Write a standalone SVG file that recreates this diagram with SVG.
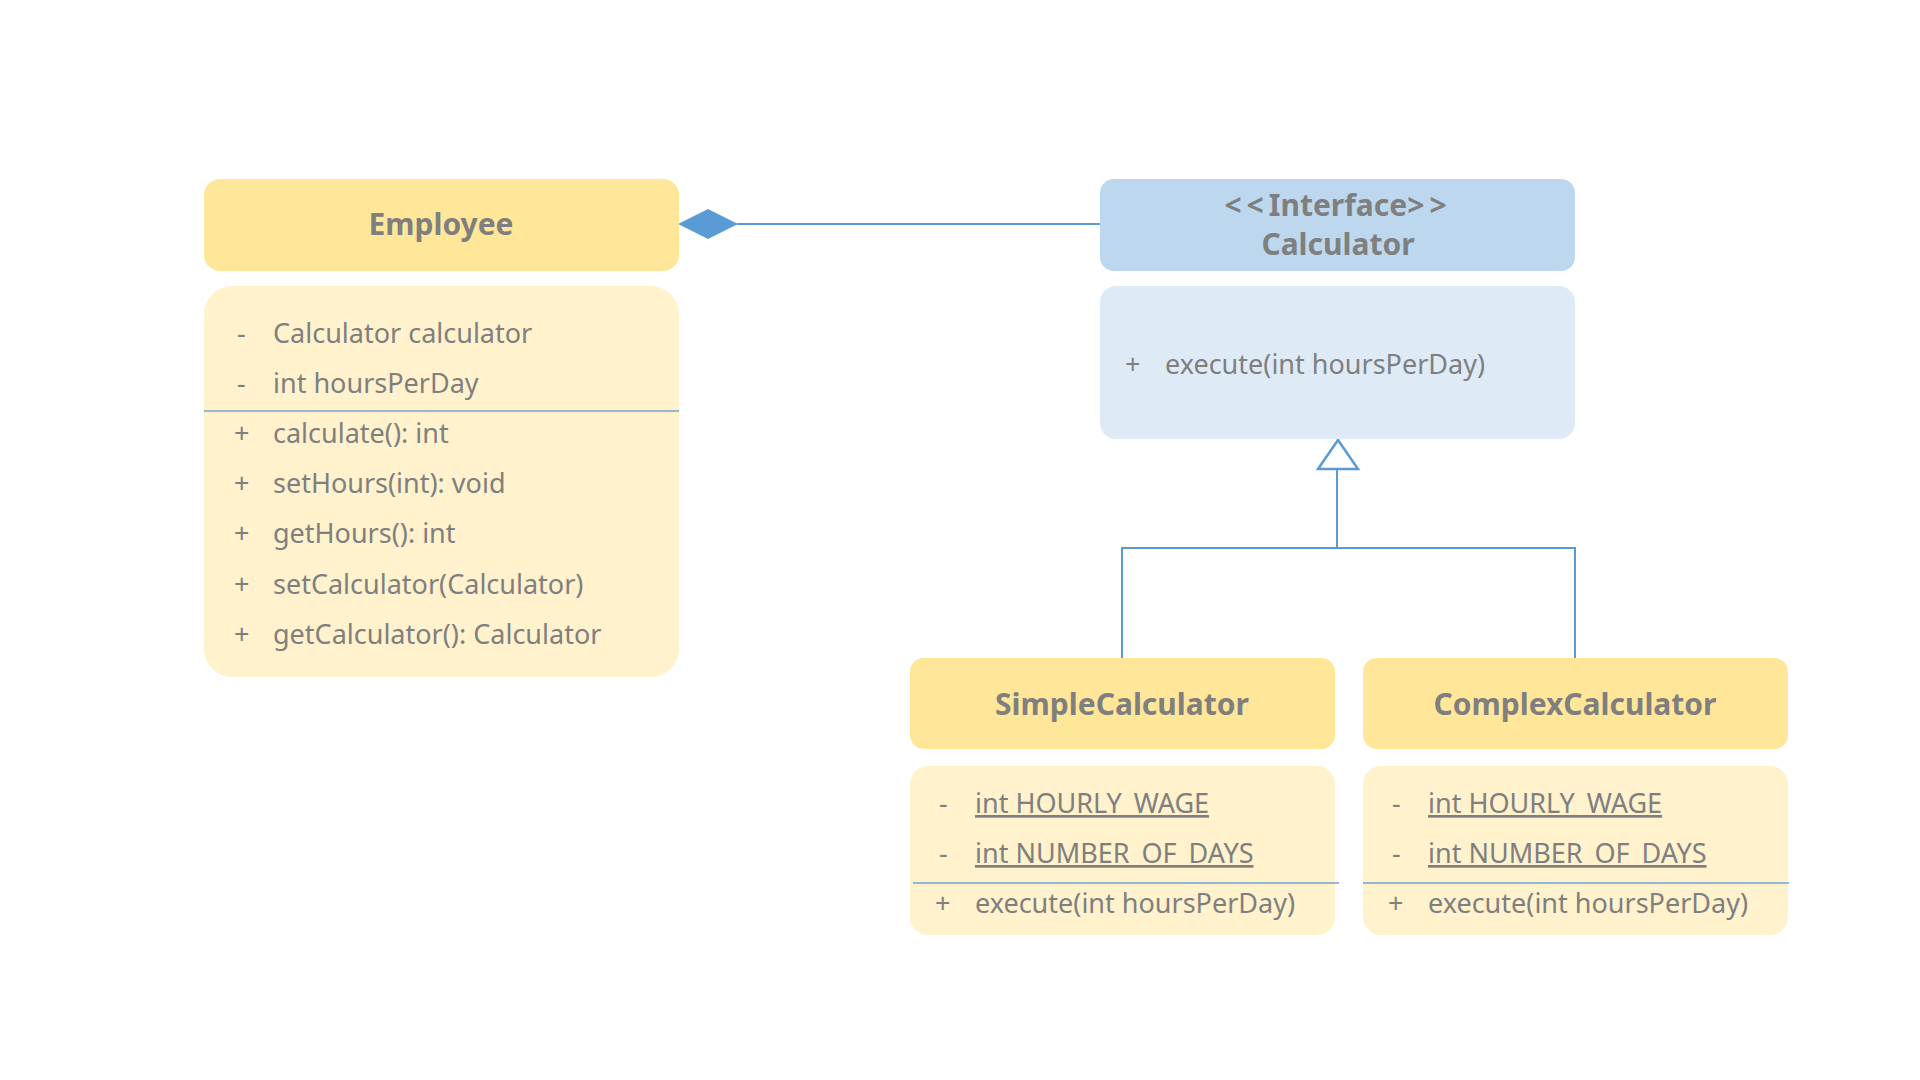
<svg xmlns="http://www.w3.org/2000/svg" width="1920" height="1080" viewBox="0 0 1920 1080">
<style>
.hy{fill:#FFE699}
.by{fill:#FFF2CC}
.hb{fill:#BDD7EE}
.bb{fill:#DEEBF7}
.t{font-family:"Noto Sans","Open Sans","Liberation Sans",sans-serif;font-size:27px;fill:#7F7F7F}
.tt{font-family:"Noto Sans","Open Sans","Liberation Sans",sans-serif;font-size:30px;font-weight:bold;fill:#7F7F7F;text-anchor:middle}
.sep{stroke:#6FA3D6;stroke-width:1.3}
.u{text-decoration:underline}
.c{fill:none;stroke:#5B9BD5;stroke-width:2}
</style>
<rect width="1920" height="1080" fill="#FFFFFF"/>
<g id="connectors">
<line class="c" x1="737" y1="224" x2="1100" y2="224"/>
<polygon points="678,224 708,209 738,224 708,239" fill="#5B9BD5"/>
<polyline class="c" points="1122,658 1122,548 1575,548 1575,658"/>
<line class="c" x1="1337" y1="469" x2="1337" y2="548"/>
<polygon points="1338,440 1318,469 1358,469" fill="#FFFFFF" stroke="#5B9BD5" stroke-width="2.5"/>
</g>
<g id="employee">
<rect class="hy" x="204" y="179" width="475" height="92" rx="16"/>
<text class="tt" x="441" y="235">Employee</text>
<rect class="by" x="204" y="286" width="475" height="391" rx="28"/>
<line class="sep" x1="204" y1="411" x2="679" y2="411"/>
<g class="t">
<text x="237" y="343">-</text><text x="273" y="343">Calculator calculator</text>
<text x="237" y="393">-</text><text x="273" y="393">int hoursPerDay</text>
<text x="234" y="443">+</text><text x="273" y="443">calculate(): int</text>
<text x="234" y="493">+</text><text x="273" y="493">setHours(int): void</text>
<text x="234" y="543">+</text><text x="273" y="543">getHours(): int</text>
<text x="234" y="594">+</text><text x="273" y="594">setCalculator(Calculator)</text>
<text x="234" y="644">+</text><text x="273" y="644">getCalculator(): Calculator</text>
</g>
</g>
<g id="calculator">
<rect class="hb" x="1100" y="179" width="475" height="92" rx="14"/>
<text class="tt" x="1338" y="216"><tspan letter-spacing="5">&lt;&lt;</tspan>Interface<tspan letter-spacing="5">&gt;&gt;</tspan></text>
<text class="tt" x="1338" y="255">Calculator</text>
<rect class="bb" x="1100" y="286" width="475" height="153" rx="16"/>
<g class="t">
<text x="1125" y="374">+</text><text x="1165" y="374">execute(int hoursPerDay)</text>
</g>
</g>
<g id="simpleCalculator">
<rect class="hy" x="910" y="658" width="425" height="91" rx="14"/>
<text class="tt" x="1122" y="715">SimpleCalculator</text>
<rect class="by" x="910" y="766" width="425" height="169" rx="18"/>
<line class="sep" x1="913" y1="883" x2="1339" y2="883"/>
<g class="t">
<text x="939" y="813">-</text><text class="u" x="975" y="813">int HOURLY_WAGE</text>
<text x="939" y="863">-</text><text class="u" x="975" y="863">int NUMBER_OF_DAYS</text>
<text x="935" y="913">+</text><text x="975" y="913">execute(int hoursPerDay)</text>
</g>
</g>
<g id="complexCalculator">
<rect class="hy" x="1363" y="658" width="425" height="91" rx="14"/>
<text class="tt" x="1575" y="715">ComplexCalculator</text>
<rect class="by" x="1363" y="766" width="425" height="169" rx="18"/>
<line class="sep" x1="1363" y1="883" x2="1789" y2="883"/>
<g class="t">
<text x="1392" y="813">-</text><text class="u" x="1428" y="813">int HOURLY_WAGE</text>
<text x="1392" y="863">-</text><text class="u" x="1428" y="863">int NUMBER_OF_DAYS</text>
<text x="1388" y="913">+</text><text x="1428" y="913">execute(int hoursPerDay)</text>
</g>
</g>
</svg>
